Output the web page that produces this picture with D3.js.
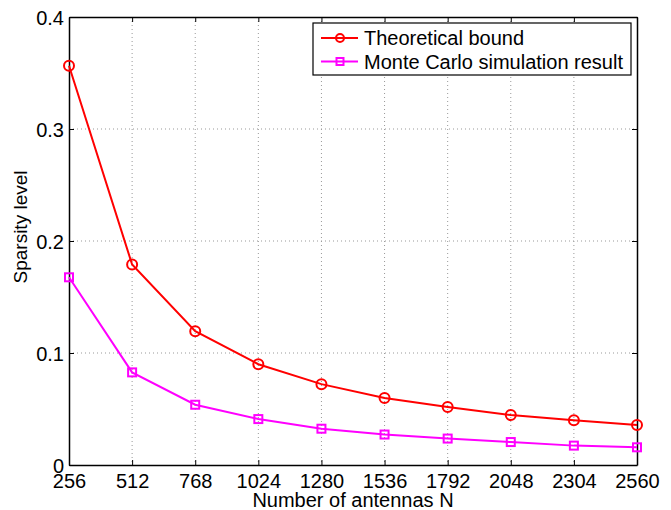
<!DOCTYPE html>
<html>
<head>
<meta charset="utf-8">
<script src="https://cdn.jsdelivr.net/npm/d3@7"></script>
<style>
  body { margin: 0; background: #fff; }
  text { font-family: "Liberation Sans", Arial, sans-serif; fill: #000; }
</style>
</head>
<body>
<div id="chartholder"></div>
<script>
// data
var antennas = [256, 512, 768, 1024, 1280, 1536, 1792, 2048, 2304, 2560];
var theoretical = [0.3565, 0.179, 0.1195, 0.0900, 0.0722, 0.0598, 0.0518, 0.0446, 0.0400, 0.0357];
var monteCarlo = [0.1676, 0.0827, 0.0538, 0.0410, 0.0324, 0.0272, 0.0236, 0.0205, 0.0173, 0.0158];
var yTicks = [0, 0.1, 0.2, 0.3, 0.4];
var seriesNames = ["Theoretical bound", "Monte Carlo simulation result"];

var svg = d3.select("#chartholder")
  .append("svg")
  .attr("width", 671)
  .attr("height", 510);

var margin = {top: 17, right: 34, bottom: 45, left: 69},
  width = 671 - margin.left - margin.right,
  height = 510 - margin.top - margin.bottom;

var g = svg.append("g")
  .attr("transform", "translate(" + margin.left + "," + margin.top + ")");

var x = d3.scaleLinear().domain([256, 2560]).range([0, width]);
var y = d3.scaleLinear().domain([0, 0.4]).range([height, 0]);

// grid
g.selectAll(".vgrid")
  .data(antennas.slice(1, -1))
  .enter().append("line")
  .attr("x1", d => x(d)).attr("x2", d => x(d))
  .attr("y1", 0).attr("y2", height)
  .attr("stroke", "#999").attr("stroke-width", 1)
  .attr("stroke-dasharray", "1,3");

g.selectAll(".hgrid")
  .data(yTicks.slice(1, -1))
  .enter().append("line")
  .attr("x1", 0).attr("x2", width)
  .attr("y1", d => y(d)).attr("y2", d => y(d))
  .attr("stroke", "#999").attr("stroke-width", 1)
  .attr("stroke-dasharray", "1,3");

// axes
var xAxis = g.append("g")
  .attr("transform", "translate(0," + height + ")")
  .call(d3.axisBottom(x).tickValues(antennas).tickFormat(d3.format("d")).tickSizeInner(-5).tickSizeOuter(0).tickPadding(9));
var yAxis = g.append("g")
  .call(d3.axisLeft(y).tickValues(yTicks).tickFormat(d => d === 0 ? "0" : d3.format(".1f")(d)).tickSizeInner(-5).tickSizeOuter(0).tickPadding(5));
var xTop = g.append("g")
  .call(d3.axisTop(x).tickValues(antennas).tickFormat("").tickSizeInner(-5).tickSizeOuter(0));
var yRight = g.append("g")
  .attr("transform", "translate(" + width + ",0)")
  .call(d3.axisRight(y).tickValues(yTicks).tickFormat("").tickSizeInner(-5).tickSizeOuter(0));

[xAxis, yAxis, xTop, yRight].forEach(function(a) {
  a.selectAll("path").attr("stroke", "#000").attr("stroke-width", 1.5);
  a.selectAll("line").attr("stroke", "#000").attr("stroke-width", 1);
  a.selectAll("text").style("font-size", "20px").attr("fill", "#000");
});
yAxis.selectAll("text").attr("dy", "0.35em");

// axis labels
svg.append("text")
  .attr("x", margin.left + width / 2)
  .attr("y", 507)
  .attr("text-anchor", "middle")
  .style("font-size", "20px")
  .text("Number of antennas N");

svg.append("text")
  .attr("transform", "translate(27,227) rotate(-90)")
  .attr("text-anchor", "middle")
  .style("font-size", "19px")
  .text("Sparsity level");

// lines
var line = d3.line()
  .x(function(d, i) { return x(antennas[i]); })
  .y(function(d) { return y(d); });

g.append("path").datum(theoretical)
  .attr("d", line).attr("fill", "none")
  .attr("stroke", "#ff0000").attr("stroke-width", 2);
g.append("path").datum(monteCarlo)
  .attr("d", line).attr("fill", "none")
  .attr("stroke", "#ff00ff").attr("stroke-width", 2);

g.selectAll(".circ")
  .data(theoretical)
  .enter().append("circle")
  .attr("cx", (d, i) => x(antennas[i]))
  .attr("cy", d => y(d))
  .attr("r", 5)
  .attr("fill", "none").attr("stroke", "#ff0000").attr("stroke-width", 2);

g.selectAll(".sq")
  .data(monteCarlo)
  .enter().append("rect")
  .attr("x", (d, i) => x(antennas[i]) - 4)
  .attr("y", d => y(d) - 4)
  .attr("width", 8).attr("height", 8)
  .attr("fill", "none").attr("stroke", "#ff00ff").attr("stroke-width", 2);

// legend
var legend = svg.append("g").attr("transform", "translate(313,23)");
legend.append("rect")
  .attr("width", 318).attr("height", 52)
  .attr("fill", "#fff").attr("stroke", "#000").attr("stroke-width", 1.2);

var colors = ["#ff0000", "#ff00ff"];
seriesNames.forEach(function(name, i) {
  var ly = 15 + i * 23.5;
  legend.append("line")
    .attr("x1", 8).attr("x2", 45).attr("y1", ly).attr("y2", ly)
    .attr("stroke", colors[i]).attr("stroke-width", 2);
  if (i === 0) {
    legend.append("circle").attr("cx", 27).attr("cy", ly).attr("r", 4)
      .attr("fill", "none").attr("stroke", colors[i]).attr("stroke-width", 2);
  } else {
    legend.append("rect").attr("x", 23.5).attr("y", ly - 3.5).attr("width", 7).attr("height", 7)
      .attr("fill", "none").attr("stroke", colors[i]).attr("stroke-width", 2);
  }
  legend.append("text")
    .attr("x", 51).attr("y", ly).attr("dy", "0.35em")
    .style("font-size", "20px")
    .text(name);
});
</script>
</body>
</html>
